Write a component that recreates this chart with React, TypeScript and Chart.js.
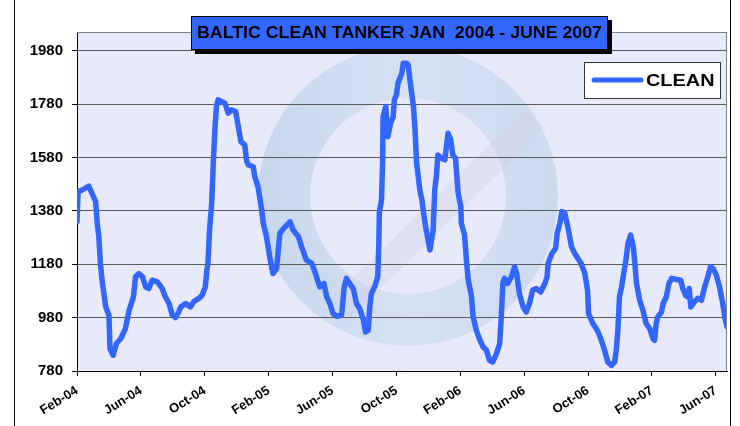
import React, { useEffect, useRef } from "react";
import { Chart, registerables } from "chart.js";

Chart.register(...registerables);

const chartTitle = "BALTIC CLEAN TANKER JAN  2004 - JUNE 2007";
const seriesName = "CLEAN";
const xTickLabels = ["Feb-04", "Jun-04", "Oct-04", "Feb-05", "Jun-05", "Oct-05", "Feb-06", "Jun-06", "Oct-06", "Feb-07", "Jun-07"];
const yTickValues = [780, 980, 1180, 1380, 1580, 1780, 1980];

const dates = [
  "2004-02-01", "2004-02-03", "2004-02-11", "2004-02-23", "2004-02-29", "2004-03-06", "2004-03-09", "2004-03-12", "2004-03-15", "2004-03-18",
  "2004-03-25", "2004-04-01", "2004-04-03", "2004-04-09", "2004-04-15", "2004-04-23", "2004-05-02", "2004-05-09", "2004-05-17", "2004-05-21",
  "2004-05-27", "2004-06-04", "2004-06-10", "2004-06-16", "2004-06-22", "2004-07-02", "2004-07-11", "2004-07-17", "2004-07-24", "2004-07-30",
  "2004-08-06", "2004-08-12", "2004-08-16", "2004-08-25", "2004-09-04", "2004-09-10", "2004-09-20", "2004-09-26", "2004-10-02", "2004-10-05",
  "2004-10-07", "2004-10-10", "2004-10-14", "2004-10-17", "2004-10-20", "2004-10-23", "2004-10-26", "2004-11-03", "2004-11-09", "2004-11-15",
  "2004-11-21", "2004-11-29", "2004-12-04", "2004-12-09", "2004-12-16", "2004-12-20", "2004-12-23", "2005-01-02", "2005-01-05", "2005-01-11",
  "2005-01-18", "2005-01-21", "2005-01-27", "2005-02-03", "2005-02-09", "2005-02-16", "2005-02-22", "2005-03-02", "2005-03-11", "2005-03-17",
  "2005-03-27", "2005-04-03", "2005-04-12", "2005-04-22", "2005-04-28", "2005-05-07", "2005-05-15", "2005-05-20", "2005-05-26", "2005-06-02",
  "2005-06-09", "2005-06-18", "2005-06-23", "2005-06-27", "2005-07-03", "2005-07-10", "2005-07-16", "2005-07-22", "2005-07-29", "2005-08-03",
  "2005-08-08", "2005-08-11", "2005-08-14", "2005-08-20", "2005-08-26", "2005-08-28", "2005-08-29", "2005-09-03", "2005-09-05", "2005-09-06",
  "2005-09-11", "2005-09-15", "2005-09-20", "2005-09-25", "2005-09-27", "2005-10-01", "2005-10-04", "2005-10-11", "2005-10-14", "2005-10-20",
  "2005-10-23", "2005-10-28", "2005-11-03", "2005-11-06", "2005-11-09", "2005-11-15", "2005-11-19", "2005-11-23", "2005-11-27", "2005-12-04",
  "2005-12-10", "2005-12-13", "2005-12-16", "2005-12-19", "2005-12-26", "2006-01-02", "2006-01-08", "2006-01-13", "2006-01-17", "2006-01-22",
  "2006-01-27", "2006-02-02", "2006-02-03", "2006-02-09", "2006-02-13", "2006-02-16", "2006-02-22", "2006-02-25", "2006-03-01", "2006-03-08",
  "2006-03-14", "2006-03-20", "2006-03-26", "2006-04-02", "2006-04-09", "2006-04-12", "2006-04-15", "2006-04-18", "2006-04-21", "2006-04-24",
  "2006-04-30", "2006-05-07", "2006-05-13", "2006-05-17", "2006-05-22", "2006-05-29", "2006-06-05", "2006-06-11", "2006-06-17", "2006-06-24",
  "2006-07-02", "2006-07-10", "2006-07-14", "2006-07-16", "2006-07-23", "2006-07-30", "2006-08-03", "2006-08-08", "2006-08-12", "2006-08-17",
  "2006-08-23", "2006-08-30", "2006-09-06", "2006-09-12", "2006-09-18", "2006-09-25", "2006-09-30", "2006-10-02", "2006-10-10", "2006-10-19",
  "2006-10-26", "2006-11-02", "2006-11-08", "2006-11-15", "2006-11-21", "2006-11-24", "2006-11-27", "2006-11-30", "2006-12-04", "2006-12-09",
  "2006-12-13", "2006-12-16", "2006-12-21", "2006-12-26", "2006-12-29", "2007-01-02", "2007-01-08", "2007-01-14", "2007-01-20", "2007-01-27",
  "2007-02-03", "2007-02-06", "2007-02-09", "2007-02-12", "2007-02-19", "2007-02-22", "2007-02-28", "2007-03-03", "2007-03-08", "2007-03-17",
  "2007-03-25", "2007-03-29", "2007-04-04", "2007-04-08", "2007-04-11", "2007-04-14", "2007-04-21", "2007-04-27", "2007-05-04", "2007-05-10",
  "2007-05-16", "2007-05-21", "2007-05-26", "2007-06-02", "2007-06-08", "2007-06-14", "2007-06-19", "2007-06-22",
];

const cleanValues = [
  1340, 1452, 1458, 1473, 1446, 1414, 1333, 1283, 1183, 1120,
  1020, 989, 864, 839, 883, 901, 939, 1008, 1058, 1133,
  1145, 1133, 1095, 1089, 1120, 1114, 1089, 1058, 1033, 989,
  980, 1001, 1020, 1033, 1020, 1039, 1052, 1064, 1095, 1158,
  1183, 1308, 1408, 1558, 1683, 1771, 1796, 1789, 1783, 1746,
  1758, 1752, 1695, 1639, 1627, 1564, 1552, 1545, 1508, 1470,
  1383, 1333, 1283, 1208, 1145, 1164, 1296, 1320, 1339, 1308,
  1283, 1245, 1195, 1183, 1151, 1095, 1108, 1058, 1033, 995,
  985, 989, 1095, 1127, 1108, 1089, 1033, 1014, 970, 926,
  933, 1020, 1070, 1095, 1133, 1258, 1377, 1420, 1558, 1733,
  1771, 1658, 1708, 1733, 1796, 1814, 1858, 1896, 1933, 1933,
  1927, 1846, 1771, 1683, 1558, 1458, 1420, 1358, 1308, 1233,
  1308, 1458, 1508, 1589, 1577, 1571, 1671, 1646, 1589, 1577,
  1446, 1395, 1333, 1290, 1183, 1120, 1060, 983, 933, 895,
  870, 858, 820, 814, 845, 864, 883, 983, 1108, 1127,
  1108, 1133, 1170, 1145, 1070, 1020, 1001, 1033, 1083, 1089,
  1076, 1108, 1133, 1183, 1220, 1239, 1296, 1333, 1377, 1373,
  1320, 1245, 1220, 1202, 1183, 1145, 1083, 995, 958, 930,
  895, 858, 814, 801, 814, 858, 933, 1058, 1095, 1158,
  1208, 1258, 1289, 1245, 1183, 1108, 1045, 1008, 958, 939,
  901, 895, 958, 983, 1001, 1033, 1058, 1108, 1127, 1123,
  1120, 1089, 1064, 1058, 1089, 1020, 1039, 1052, 1045, 1095,
  1133, 1170, 1164, 1139, 1095, 1033, 970, 945,
];

// months since 1 Feb 2004
function monthsSinceStart(d: string): number {
  const [y, m, day] = d.split("-").map(Number);
  return (y - 2004) * 12 + (m - 2) + (day - 1) / 30;
}

const FONT = "'Liberation Sans', Arial, Helvetica, sans-serif";
const LINE_BLUE = "#3366FF";

function stretchedText(ctx: CanvasRenderingContext2D, text: string, x: number, y: number, sx: number) {
  ctx.save();
  ctx.translate(x, y);
  ctx.scale(sx, 1);
  ctx.fillText(text, 0, 0);
  ctx.restore();
}

const decorPlugin = {
  id: "decor",
  beforeDraw(chart: any) {
    const ctx = chart.ctx;
    const a = chart.chartArea;
    ctx.save();
    ctx.fillStyle = "#ffffff";
    ctx.fillRect(0, 0, chart.width, chart.height);
    ctx.fillStyle = "#E8E9FA";
    ctx.fillRect(a.left, a.top, a.right - a.left, a.bottom - a.top);
    // faint watermark logo
    ctx.beginPath();
    ctx.rect(a.left, a.top, a.right - a.left, a.bottom - a.top);
    ctx.clip();
    const cx = 408, cy = 196;
    const g = ctx.createLinearGradient(cx - 150, cy, cx + 150, cy);
    g.addColorStop(0, "rgba(165, 198, 222, 0.5)");
    g.addColorStop(0.5, "rgba(180, 205, 228, 0.35)");
    g.addColorStop(1, "rgba(170, 200, 225, 0.45)");
    ctx.beginPath();
    ctx.arc(cx, cy, 150, 0, Math.PI * 2);
    ctx.arc(cx, cy, 98, 0, Math.PI * 2, true);
    ctx.fillStyle = g;
    ctx.fill("evenodd");
    ctx.beginPath();
    ctx.moveTo(330, 300);
    ctx.lineTo(350, 318);
    ctx.lineTo(545, 128);
    ctx.lineTo(525, 110);
    ctx.closePath();
    ctx.fillStyle = "rgba(205, 210, 225, 0.35)";
    ctx.fill();
    ctx.restore();
  },
  afterDraw(chart: any) {
    const ctx = chart.ctx;
    const a = chart.chartArea;
    ctx.save();
    // plot border top / right
    ctx.strokeStyle = "#808080";
    ctx.lineWidth = 1;
    ctx.beginPath();
    ctx.moveTo(a.left, Math.round(a.top) + 0.5);
    ctx.lineTo(a.right, Math.round(a.top) + 0.5);
    ctx.moveTo(Math.round(a.right) - 0.5, a.top);
    ctx.lineTo(Math.round(a.right) - 0.5, a.bottom);
    ctx.stroke();

    // outer frame
    ctx.strokeStyle = "#000000";
    ctx.beginPath();
    ctx.moveTo(14.5, 0);
    ctx.lineTo(14.5, chart.height);
    ctx.moveTo(730.5, 0);
    ctx.lineTo(730.5, chart.height);
    ctx.stroke();

    // title box with shadow
    const tx = 191, ty = 16, tw = 417, th = 34;
    ctx.fillStyle = "#000000";
    ctx.fillRect(tx + 4, ty + 4, tw, th);
    ctx.fillStyle = LINE_BLUE;
    ctx.fillRect(tx, ty, tw, th);
    ctx.strokeStyle = "#000000";
    ctx.strokeRect(tx + 0.5, ty + 0.5, tw - 1, th - 1);
    ctx.fillStyle = "#000000";
    ctx.font = `bold 16px ${FONT}`;
    ctx.textAlign = "center";
    ctx.textBaseline = "middle";
    stretchedText(ctx, chartTitle, tx + tw / 2, ty + th / 2 + 1, 1.11);

    // legend
    const lx = 584, ly = 62, lw = 137, lh = 37;
    ctx.fillStyle = "#ffffff";
    ctx.fillRect(lx, ly, lw, lh);
    ctx.strokeStyle = "#333333";
    ctx.strokeRect(lx + 0.5, ly + 0.5, lw - 1, lh - 1);
    ctx.strokeStyle = LINE_BLUE;
    ctx.lineWidth = 5;
    ctx.lineCap = "round";
    ctx.beginPath();
    ctx.moveTo(594, 80);
    ctx.lineTo(641, 80);
    ctx.stroke();
    ctx.fillStyle = "#000000";
    ctx.font = `bold 17px ${FONT}`;
    ctx.textAlign = "left";
    ctx.textBaseline = "middle";
    stretchedText(ctx, chart.data.datasets[0].label, 646, 81, 1.17);
    ctx.restore();
  },
};

export default function App() {
  const canvasRef = useRef<HTMLCanvasElement | null>(null);

  useEffect(() => {
    document.body.style.margin = "0";
    const canvas = canvasRef.current;
    if (!canvas) return;
    const points = dates.map((d, i) => ({ x: monthsSinceStart(d), y: cleanValues[i] }));
    const chart = new Chart(canvas, {
      type: "line",
      data: {
        datasets: [
          {
            label: seriesName,
            data: points,
            borderColor: LINE_BLUE,
            backgroundColor: LINE_BLUE,
            borderWidth: 5.5,
            pointRadius: 0,
            tension: 0,
            borderJoinStyle: "round",
            borderCapStyle: "round",
          },
        ],
      },
      options: {
        responsive: false,
        animation: false,
        events: [],
        layout: { padding: { left: 0, right: 13, top: 32, bottom: 0 } },
        plugins: {
          legend: { display: false },
          title: { display: false },
          tooltip: { enabled: false },
        },
        scales: {
          x: {
            type: "linear",
            min: 0,
            max: 40.7,
            afterBuildTicks: (scale: any) => {
              scale.ticks = xTickLabels.map((_, i) => ({ value: i * 4 }));
            },
            afterFit: (scale: any) => {
              scale.height = 55;
            },
            grid: {
              drawOnChartArea: false,
              drawTicks: true,
              tickLength: 5,
              tickColor: "#000000",
            },
            border: { color: "#000000", width: 1 },
            ticks: {
              autoSkip: false,
              maxRotation: 32,
              minRotation: 32,
              padding: 7,
              color: "#000000",
              font: { family: FONT, size: 13, weight: "bold" },
              callback: (_v: any, i: number) => xTickLabels[i],
            },
          },
          y: {
            type: "linear",
            min: 780,
            max: 2050,
            afterBuildTicks: (scale: any) => {
              scale.ticks = yTickValues.map((v) => ({ value: v }));
            },
            afterFit: (scale: any) => {
              scale.width = 77;
            },
            grid: {
              color: "#5a5a5a",
              lineWidth: 1,
              drawTicks: true,
              tickLength: 5,
              tickColor: "#000000",
            },
            border: { color: "#000000", width: 1 },
            ticks: {
              padding: 9,
              color: "#000000",
              font: { family: FONT, size: 15, weight: "bold" },
              callback: (v: any) => String(v),
            },
          },
        },
      },
      plugins: [decorPlugin],
    } as any);
    return () => chart.destroy();
  }, []);

  return (
    <div style={{ position: "fixed", left: 0, top: 0, width: 740, height: 426, background: "#fff" }}>
      <canvas ref={canvasRef} width={740} height={426} style={{ display: "block" }} />
    </div>
  );
}
